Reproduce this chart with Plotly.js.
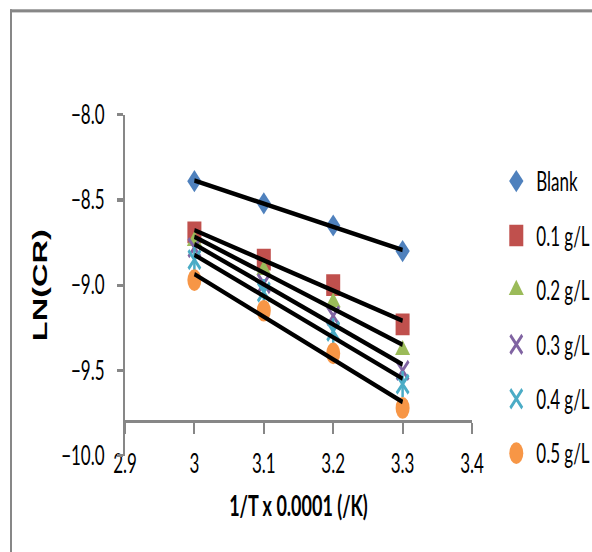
<!DOCTYPE html>
<html>
<head>
<meta charset="utf-8">
<script src="https://cdn.plot.ly/plotly-3.0.1.min.js"></script>
<style>
  html, body { margin: 0; padding: 0; background: #fff; overflow: hidden; }
  #wrap {
    position: absolute; left: 0; top: 0;
    width: 592px; height: 356px;
    transform: scaleY(1.55); transform-origin: 0 0;
  }
  #chart { position: absolute; left: 0; top: 0; width: 592px; height: 356px; }
  #frame {
    position: absolute; left: 10px; top: 6px; width: 700px; height: 500px;
    border-left: 2px solid #878787; border-top: 2px solid #878787;
    pointer-events: none;
  }
</style>
</head>
<body>
<div id="wrap">
  <div id="chart"></div>
  <div id="frame"></div>
</div>
<script>
// Reciprocal temperature (1/T x 0.0001, /K)
const invT = [3.0, 3.1, 3.2, 3.3];

// ln(corrosion rate) for each inhibitor dose
const seriesNames = ["Blank", "0.1 g/L", "0.2 g/L", "0.3 g/L", "0.4 g/L", "0.5 g/L"];
const lnBlank = [-8.39, -8.52, -8.65, -8.80];
const ln01 = [-8.69, -8.85, -9.00, -9.23];
const ln02 = [-8.74, -8.91, -9.10, -9.38];
const ln03 = [-8.78, -8.99, -9.18, -9.50];
const ln04 = [-8.85, -9.04, -9.27, -9.58];
const ln05 = [-8.97, -9.15, -9.40, -9.72];
const allSeries = [lnBlank, ln01, ln02, ln03, ln04, ln05];

// Axis settings
const xRange = [2.9, 3.4];
const yRange = [-10.0, -8.0];
const xCrossesAt = -9.8;

const colors = ["#4F81BD", "#C0504D", "#9BBB59", "#8064A2", "#4BACC6", "#F79646"];
const symbols = ["diamond", "square", "triangle-up", "x-thin-open", "x-thin-open", "circle"];
const sizes = [11, 14, 13, 12, 12, 14];

const FONT = "Lato, 'Open Sans', sans-serif";

// least-squares straight line through a series
function linearFit(xs, ys) {
  const n = xs.length;
  const mx = xs.reduce((a, b) => a + b, 0) / n;
  const my = ys.reduce((a, b) => a + b, 0) / n;
  let sxy = 0, sxx = 0;
  for (let i = 0; i < n; i++) {
    sxy += (xs[i] - mx) * (ys[i] - my);
    sxx += (xs[i] - mx) * (xs[i] - mx);
  }
  const slope = sxy / sxx;
  return x => my + slope * (x - mx);
}

const traces = [];
allSeries.forEach((ys, i) => {
  const thin = symbols[i].indexOf("thin") >= 0;
  traces.push({
    type: "scatter", mode: "markers",
    x: invT, y: ys, name: seriesNames[i], legendgroup: "g" + i,
    marker: {
      symbol: symbols[i], size: sizes[i], color: colors[i],
      line: { color: colors[i], width: thin ? 2.5 : 0 }
    },
    hoverinfo: "x+y+name"
  });
  if (i === 4) {
    // vertical stroke completing the star marker
    traces.push({
      type: "scatter", mode: "markers",
      x: invT, y: ys, name: seriesNames[i], legendgroup: "g" + i, showlegend: false,
      marker: { symbol: "line-ns-open", size: 12, color: colors[i], line: { color: colors[i], width: 2.5 } },
      hoverinfo: "skip"
    });
  }
});

// linear trendlines, drawn above the markers
allSeries.forEach((ys, i) => {
  const f = linearFit(invT, ys);
  const xs = [invT[0], invT[invT.length - 1]];
  traces.push({
    type: "scatter", mode: "lines",
    x: xs, y: xs.map(f), showlegend: false, legendgroup: "g" + i,
    line: { color: "#000000", width: 3 }, hoverinfo: "skip"
  });
});

const layout = {
  width: 592, height: 356,
  paper_bgcolor: "#ffffff", plot_bgcolor: "#ffffff",
  margin: { l: 125, r: 120, t: 74, b: 62, pad: 0, autoexpand: false },
  font: { family: FONT, size: 17, color: "#000000" },
  showlegend: true,
  xaxis: {
    range: xRange, dtick: 0.1, tick0: 2.9,
    anchor: "free", position: (xCrossesAt - yRange[0]) / (yRange[1] - yRange[0]),
    showgrid: false, zeroline: false,
    showline: true, linecolor: "#878787", linewidth: 2,
    ticks: "outside", ticklen: 7, tickwidth: 2, tickcolor: "#878787",
    ticklabelstandoff: 5,
    tickfont: { family: FONT, size: 17, color: "#000000" },
    title: { text: "<b>1/T x 0.0001 (/K)</b>", font: { family: FONT, size: 18, color: "#000000" }, standoff: 11 }
  },
  yaxis: {
    range: yRange, dtick: 0.5, tick0: -10, tickformat: ".1f",
    showgrid: false, zeroline: false,
    showline: true, linecolor: "#878787", linewidth: 2,
    ticks: "outside", ticklen: 6, tickwidth: 2, tickcolor: "#878787",
    ticklabelstandoff: 9,
    tickfont: { family: FONT, size: 17, color: "#000000" },
    title: { text: "<b>LN(CR)</b>", font: { family: "Liberation Sans, Arial, sans-serif", size: 21, color: "#000000" }, standoff: 8 }
  },
  legend: {
    x: 1.07, xanchor: "left", y: 0.885, yanchor: "top",
    font: { family: FONT, size: 17, color: "#000000" },
    tracegroupgap: 10, bgcolor: "rgba(0,0,0,0)"
  }
};

Plotly.newPlot("chart", traces, layout, { displayModeBar: false, staticPlot: true });
</script>
</body>
</html>
